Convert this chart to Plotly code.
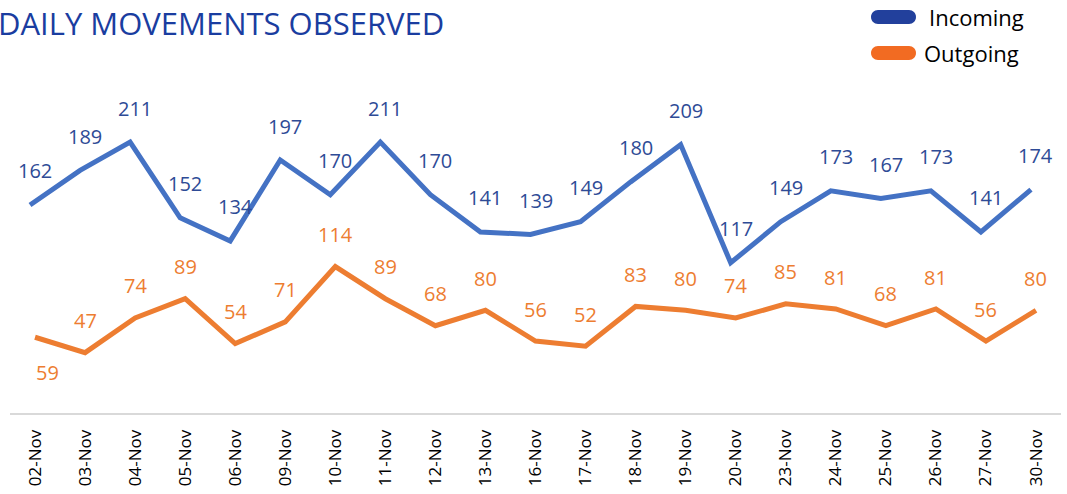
import plotly.graph_objects as go

dates = ["02-Nov", "03-Nov", "04-Nov", "05-Nov", "06-Nov", "09-Nov", "10-Nov",
         "11-Nov", "12-Nov", "13-Nov", "16-Nov", "17-Nov", "18-Nov", "19-Nov",
         "20-Nov", "23-Nov", "24-Nov", "25-Nov", "26-Nov", "27-Nov", "30-Nov"]
incoming = [162, 189, 211, 152, 134, 197, 170, 211, 170, 141, 139,
            149, 180, 209, 117, 149, 173, 167, 173, 141, 174]
outgoing = [59, 47, 74, 89, 54, 71, 114, 89, 68, 80, 56,
            52, 83, 80, 74, 85, 81, 68, 81, 56, 80]

BLUE = "#4472C4"
ORANGE = "#ED7D31"
FONT = "Open Sans"

fig = go.Figure()
# blue line sits a few pixels left of the categories in the original, so it gets its own axis
fig.add_trace(go.Scatter(x=dates, y=incoming, mode="lines", name="Incoming",
                         line=dict(color=BLUE, width=5), xaxis="x2",
                         showlegend=False, hoverinfo="skip"))
fig.add_trace(go.Scatter(x=dates, y=outgoing, mode="lines", name="Outgoing",
                         line=dict(color=ORANGE, width=5),
                         showlegend=False, hoverinfo="skip"))

annos = []
for d, v in zip(dates, incoming):
    annos.append(dict(x=d, y=v, xref="x", yref="y", text=str(v), showarrow=False,
                      yshift=34, font=dict(family=FONT, size=20, color="#2E4B96")))
for i, (d, v) in enumerate(zip(dates, outgoing)):
    below = i == 0
    annos.append(dict(x=d, y=v, xref="x", yref="y", text=str(v), showarrow=False,
                      yshift=-35 if below else 32, xshift=12 if below else 0,
                      font=dict(family=FONT, size=20, color=ORANGE)))

# title, cut at the left edge like the original
annos.append(dict(x=-0.0133, y=1.215, xref="paper", yref="paper", xanchor="left",
                  yanchor="middle", text="DAILY MOVEMENTS OBSERVED", showarrow=False,
                  font=dict(family=FONT, size=31, color="#1A3DA0")))

# legend drawn by hand (thick rounded swatches)
pill = "M7,-7 L38,-7 C41.9,-7 45,-3.9 45,0 C45,3.9 41.9,7 38,7 L7,7 C3.1,7 0,3.9 0,0 C0,-3.9 3.1,-7 7,-7 Z"
shapes = []
for name, col, ypix, xtxt in [("Incoming", "#22409C", 17, 927), ("Outgoing", "#F26B22", 53, 922)]:
    yp = (413 - ypix) / 321
    shapes.append(dict(type="path", xref="paper", yref="paper", xsizemode="pixel",
                       ysizemode="pixel", xanchor=(871 - 10) / 1051, yanchor=yp,
                       path=pill, fillcolor=col, line=dict(width=0)))
    annos.append(dict(x=(xtxt - 10) / 1051, y=yp, xref="paper", yref="paper",
                      xanchor="left", yanchor="middle", text=name, showarrow=False,
                      font=dict(family=FONT, size=22, color="#000000")))

fig.update_layout(
    width=1067, height=494,
    margin=dict(l=10, r=6, t=92, b=81, autoexpand=False),
    plot_bgcolor="white", paper_bgcolor="white",
    showlegend=False,
    annotations=annos, shapes=shapes,
    xaxis=dict(type="category", categoryorder="array", categoryarray=dates,
               range=[-0.5, 20.5], showgrid=False, zeroline=False, automargin=False,
               showline=True, linecolor="#D9D9D9", linewidth=2,
               ticks="", tickangle=-90, ticklabelstandoff=8,
               tickfont=dict(family=FONT, size=17, color="#000000")),
    xaxis2=dict(type="category", categoryorder="array", categoryarray=dates,
                range=[-0.4, 20.6], overlaying="x", visible=False),
    yaxis=dict(range=[0, 250], visible=False, showgrid=False, zeroline=False,
               automargin=False),
)

# drop the default page margin so the chart fills the window
fig.write_html("out.html", config={"displayModeBar": False},
               post_script="document.body.style.margin='0px';")
